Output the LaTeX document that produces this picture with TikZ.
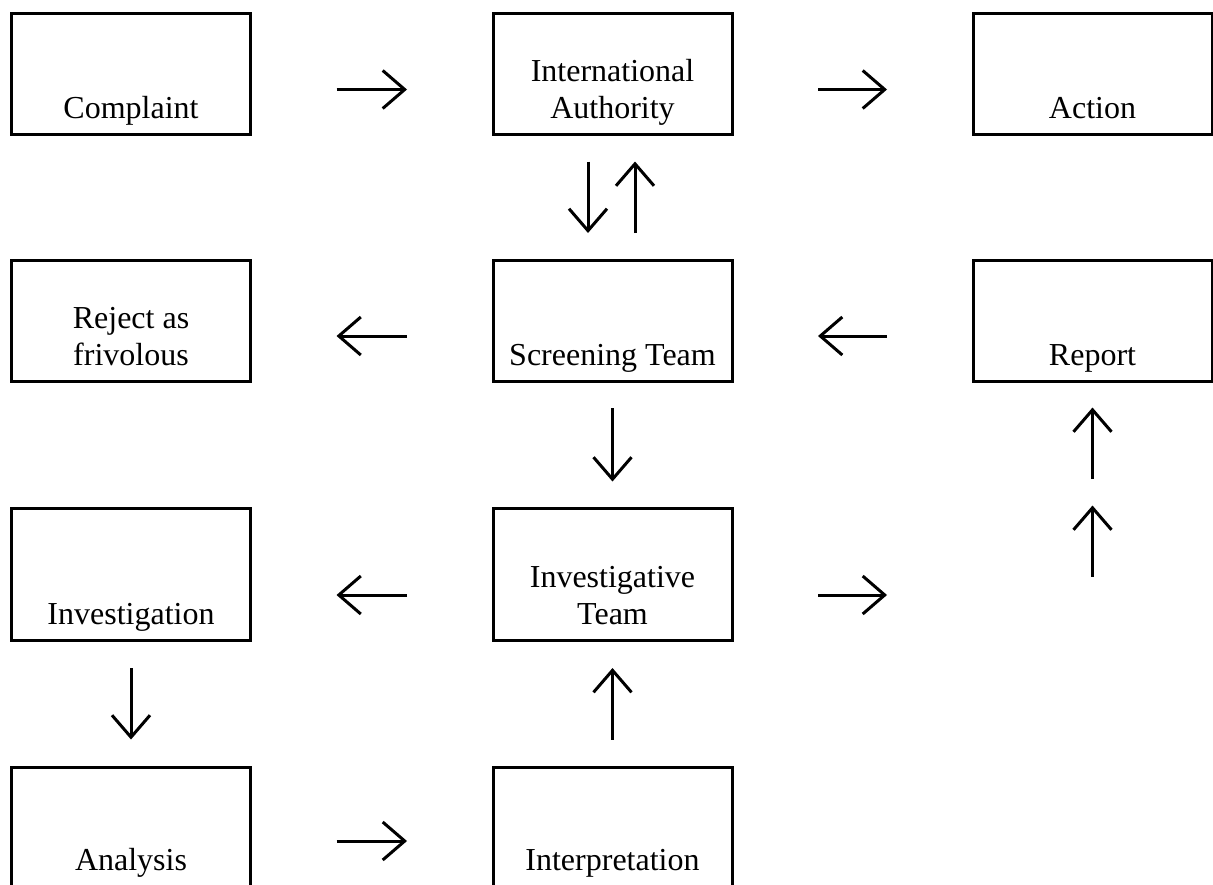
\documentclass[tikz,border=0pt]{standalone}
\usepackage{fontspec}
\setmainfont{Liberation Serif}
\usetikzlibrary{arrows.meta}
\newcommand{\twolines}[2]{\begin{tabular}[b]{@{}c@{}}#1\\#2\end{tabular}}
\tikzset{
  stage/.style={draw, line width=1.5pt, inner sep=0pt, outer sep=0pt, anchor=north,
    minimum width=119.5pt, text height=#1, text depth=8pt},
  flow/.style={line width=1.5pt, -{Straight Barb[length=11pt,width=19pt]}},
  gap/.style={shorten <=#1, shorten >=#1}
}
\begin{document}
\begin{tikzpicture}[x=0.5pt,y=-0.5pt,font=\fontsize{16pt}{18.5pt}\selectfont]
\useasboundingbox (0,0) rectangle (1213,884);
% first row
\node[stage=52.5pt] (complaint) at (131,13.5) {Complaint};
\node[stage=52.5pt] (authority) at (612.5,13.5) {\twolines{International}{Authority}};
\node[stage=52.5pt] (action) at (1092.5,13.5) {Action};
% second row
\node[stage=52.5pt] (reject) at (131,260) {\twolines{Reject as}{frivolous}};
\node[stage=52.5pt] (screening) at (612.5,260) {Screening Team};
\node[stage=52.5pt] (report) at (1092.5,260) {Report};
% third row
\node[stage=57.75pt] (investigation) at (131,508.5) {Investigation};
\node[stage=57.75pt] (investteam) at (612.5,508.5) {\twolines{Investigative}{Team}};
% last row, cut by the page edge
\node[stage=51.25pt] (analysis) at (131,767.5) {Analysis};
\node[stage=51.25pt] (interpretation) at (612.5,767.5) {Interpretation};
% arrows along the rows
\foreach \a/\b in {complaint/authority, authority/action, screening/reject, report/screening, investteam/investigation, analysis/interpretation}
  \draw[flow, gap=102.75pt] ([yshift=14.5pt]\a.base) -- ([yshift=14.5pt]\b.base);
\draw[flow, gap=102.75pt] ([yshift=14.5pt]investteam.base) -- ([yshift=14.5pt]investteam.base -| report.center);
% arrows between the rows
\draw[flow, gap=13.5pt] ([xshift=-12.25pt]authority.south) -- ([xshift=-12.25pt]screening.north);
\draw[flow, gap=13.5pt] ([xshift=11.25pt]screening.north) -- ([xshift=11.25pt]authority.south);
\draw[flow, gap=13.5pt] (screening) -- (investteam);
\draw[flow, gap=14pt] (investigation) -- (analysis);
\draw[flow, gap=14pt] (interpretation) -- (investteam);
% two arrows up to the report
\coordinate (relay) at ([yshift=-62.25pt]report.south);
\coordinate (feed) at ([yshift=-35.5pt]relay);
\draw[flow] (feed) -- (relay);
\draw[flow, gap=13.25pt] (relay) -- (report);
\end{tikzpicture}
\end{document}
